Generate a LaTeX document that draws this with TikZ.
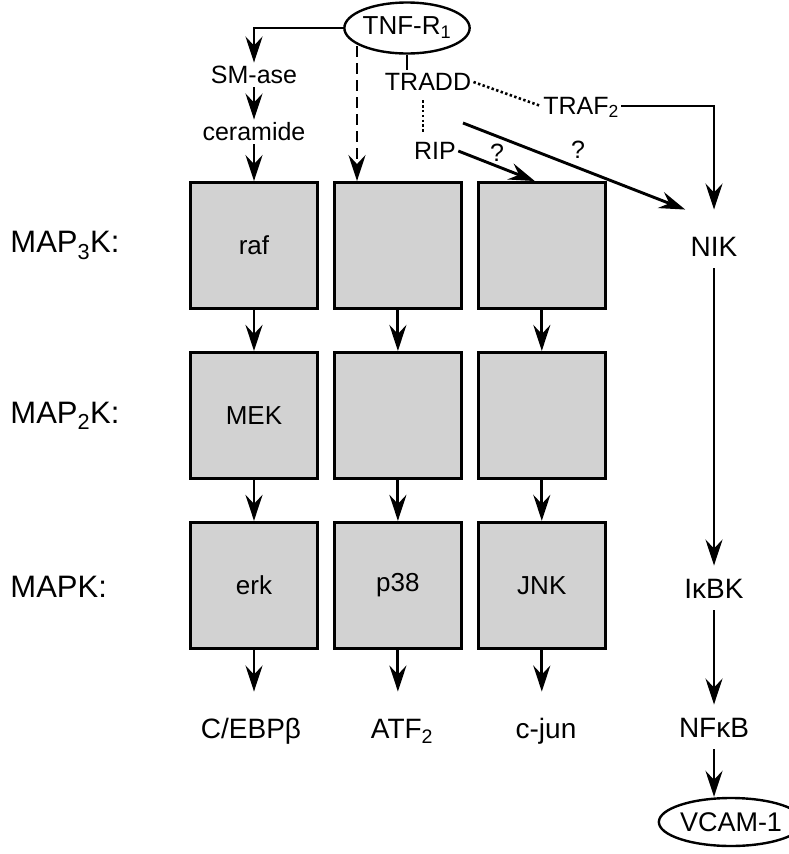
\documentclass[tikz,border=0pt]{standalone}
\usepackage{fontspec}
\setmainfont{Liberation Sans}
\usetikzlibrary{arrows.meta,positioning,shapes.geometric}

\begin{document}
\begin{tikzpicture}[
    x=1pt, y=-1pt,
    line width=2.9pt,
    >={Stealth[length=26pt,width=17pt,inset=9pt]},
    txt/.style={inner sep=1pt, text height=18pt, text depth=2pt, font=\fontsize{25}{30}\selectfont},
    kin/.style={draw, fill=boxgray, minimum width=127pt, minimum height=126pt, inner sep=0pt,
                font=\fontsize{26}{31}\selectfont},
    lvl/.style={anchor=west, inner sep=1pt, font=\fontsize{31}{37}\selectfont},
    prod/.style={inner sep=1pt, text height=20pt, text depth=4pt, font=\fontsize{28}{34}\selectfont},
    rcol/.style={inner xsep=1pt, inner ysep=11pt, text height=20pt, text depth=0pt,
                 font=\fontsize{28}{34}\selectfont},
    rec/.style={ellipse, draw, line width=2.4pt, inner sep=0pt, font=\fontsize{26}{31}\selectfont},
    assoc/.style={line width=2.6pt, dash pattern=on 2.4pt off 2.4pt},
  ]
  \definecolor{boxgray}{HTML}{D2D2D2}
  \useasboundingbox (0,0) rectangle (788,854);

  % receptor and adaptors
  \node[rec, minimum width=112pt, minimum height=51pt] (tnf) at (407,28) {TNF-R\textsubscript{1}};
  \node[txt] (sm) at (254,75) {SM-ase};
  \node[txt] (cer) at (254,132) {ceramide};
  \node[txt] (tradd) at (428,82) {TRADD};
  \node[txt] (traf) at (581,106) {TRAF\textsubscript{2}};
  \node[txt] (rip) at (435,151) {RIP};
  \node[txt] (q1) at (497,153) {?};
  \node[txt] (q2) at (578,150) {?};

  % kinase cascades
  \node[kin] (k11) at (254,245.5) {raf};
  \node[kin, right=14pt of k11] (k12) {};
  \node[kin, right=14pt of k12] (k13) {};
  \node[kin, below=41pt of k11] (k21) {MEK};
  \node[kin, right=14pt of k21] (k22) {};
  \node[kin, right=14pt of k22] (k23) {};
  \node[kin, below=41pt of k21] (k31) {erk};
  \node[kin, right=14pt of k31] (k32) {p38};
  \node[kin, right=14pt of k32] (k33) {JNK};

  \node[lvl] (m3) at (8,245.5) {MAP\textsubscript{3}K:};
  \node[lvl] (m2) at (8,416) {MAP\textsubscript{2}K:};
  \node[lvl] (m1) at (8,586.5) {MAPK:};

  \node[prod] (cebp) at (251,730) {C/EBPβ};
  \node[prod] (atf) at (402,730) {ATF\textsubscript{2}};
  \node[prod] (cjun) at (546,730) {c-jun};

  % NF-kB branch
  \node[rcol] (nik) at (714,246) {NIK};
  \node[rcol] (ikbk) at (714,588) {IκBK};
  \node[rcol] (nfkb) at (714,727) {NFκB};
  \node[rec, minimum width=107pt, minimum height=48pt, font=\fontsize{27}{32}\selectfont] (vcam) at (731,822) {VCAM-1};

  % connectors
  \draw[->] (tnf.west) -| (sm.north);
  \draw[->] (sm) -- (cer);
  \draw[->] (cer) -- (k11);
  \coordinate (dsh) at (357,46);
  \draw[->, dash pattern=on 11pt off 6pt] (dsh) -- (dsh |- k12.north);
  \draw (tnf.south) -- (tnf.south |- tradd.north);
  \draw[assoc] (tradd.east) -- (traf.west);
  \draw[assoc, shorten <=6pt, shorten >=6pt] ([xshift=-5pt]tradd.south) -- ([xshift=-5pt]tradd.south |- rip.north);
  \draw[->] (rip.east) -- ([xshift=-7pt]k13.north);
  \coordinate (dia) at (463,123);
  \draw[->] (dia) -- ([shift={(-3pt,14pt)}]nik.north west);
  \draw[->, shorten >=14pt] (traf.east) -| (nik.north);

  \draw[->] (k11) -- (k21);
  \draw[->] (k21) -- (k31);
  \draw[->] (k12) -- (k22);
  \draw[->] (k22) -- (k32);
  \draw[->] (k13) -- (k23);
  \draw[->] (k23) -- (k33);
  \draw[->, shorten >=24pt] (k31) -- (k31 |- cebp.north);
  \draw[->, shorten >=24pt] (k32) -- (k32 |- atf.north);
  \draw[->, shorten >=24pt] (k33) -- (k33 |- cjun.north);

  \draw[->] (nik) -- (ikbk);
  \draw[->] (ikbk) -- (nfkb);
  \draw[->] (nfkb) -- (nfkb |- vcam.north);
\end{tikzpicture}
\end{document}
